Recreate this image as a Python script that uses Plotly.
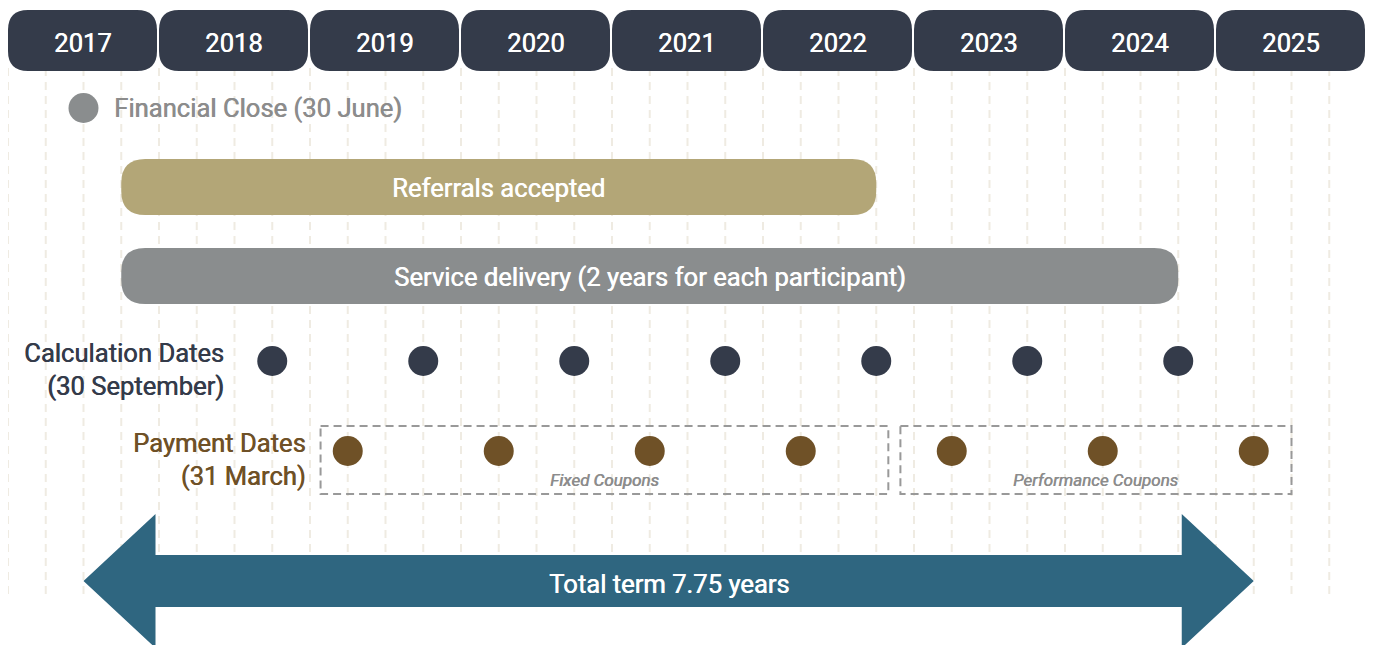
import plotly.graph_objects as go

# ---- data ----
years = [2017, 2018, 2019, 2020, 2021, 2022, 2023, 2024, 2025]
financial_close = 2017.5            # 30 June 2017
referrals_period = [2017.75, 2022.75]
service_period = [2017.75, 2024.75]
calculation_dates = [2018.75, 2019.75, 2020.75, 2021.75, 2022.75, 2023.75, 2024.75]
payment_dates = [2019.25, 2020.25, 2021.25, 2022.25, 2023.25, 2024.25, 2025.25]
fixed_coupon_span = [2019.07, 2022.83]
performance_coupon_span = [2022.91, 2025.50]
term_period = [2017.5, 2025.25]     # 7.75 years

# ---- styling ----
PX_PER_YEAR = 151.0
PAGE_MARGIN = 8                     # default body margin of the html page
W, H = 1373 - PAGE_MARGIN, 645 - PAGE_MARGIN
FONT = "Roboto"
DARK = "#343b4a"
GOLD = "#b3a677"
GREY = "#8a8d8e"
BROWN = "#6f5127"
TEAL = "#2f6680"
GRID = "#efebe2"
FS = 25.6

def fnt(color, size=FS):
    # regular Roboto thickened slightly to mimic the medium weight
    return dict(family=FONT, size=size, color=color, weight=400,
                shadow=f"0.55px 0 0 {color}")

def px(n):
    return n / PX_PER_YEAR

x_min = years[0]
x_max = x_min + px(W)

fig = go.Figure()
shapes = []
annotations = []

# quarter-year dashed gridlines
q = years[0]
while q <= years[-1] + 1 + 1e-9:
    shapes.append(dict(type="line", x0=q, x1=q, y0=68, y1=594, xref="x", yref="y",
                       line=dict(color=GRID, width=2, dash="8px,6px"), layer="below"))
    q += 0.25

def rrect(x0, x1, y0, y1, r, color):
    rx = px(r)
    path = (f"M{x0+rx},{y0} L{x1-rx},{y0} Q{x1},{y0} {x1},{y0+r} "
            f"L{x1},{y1-r} Q{x1},{y1} {x1-rx},{y1} L{x0+rx},{y1} "
            f"Q{x0},{y1} {x0},{y1-r} L{x0},{y0+r} Q{x0},{y0} {x0+rx},{y0} Z")
    return dict(type="path", path=path, xref="x", yref="y", fillcolor=color,
                line=dict(width=0), layer="above")

# year header boxes
for yr in years:
    shapes.append(rrect(yr, yr + 1 - px(2), 10, 71, 20, DARK))
    annotations.append(dict(x=yr + 0.5 - px(1), y=43, text=str(yr), showarrow=False,
                            font=fnt("#ffffff")))

# financial close
fig.add_trace(go.Scatter(x=[financial_close], y=[108], mode="markers",
                         marker=dict(size=30, color=GREY), hoverinfo="skip"))
annotations.append(dict(x=financial_close + px(28), y=108, text="Financial Close (30 June)",
                        showarrow=False, xanchor="left", font=fnt("#8c8c8c")))

# referrals & service bars
shapes.append(rrect(referrals_period[0], referrals_period[1], 159, 215, 24, GOLD))
annotations.append(dict(x=sum(referrals_period) / 2, y=188, text="Referrals accepted",
                        showarrow=False, font=fnt("#ffffff")))
shapes.append(rrect(service_period[0], service_period[1], 248, 304, 24, GREY))
annotations.append(dict(x=sum(service_period) / 2, y=277,
                        text="Service delivery (2 years for each participant)",
                        showarrow=False, font=fnt("#ffffff")))

# calculation dates
fig.add_trace(go.Scatter(x=calculation_dates, y=[361] * len(calculation_dates), mode="markers",
                         marker=dict(size=30, color=DARK), hoverinfo="skip"))
annotations.append(dict(x=years[0] + px(218), y=369, text="Calculation Dates<br>(30 September)",
                        showarrow=False, xanchor="right", align="right", font=fnt(DARK)))

# coupon boxes
for span, label in [(fixed_coupon_span, "Fixed Coupons"),
                    (performance_coupon_span, "Performance Coupons")]:
    shapes.append(dict(type="rect", x0=span[0], x1=span[1], y0=426, y1=494, xref="x", yref="y",
                       line=dict(color="#999999", width=2, dash="8px,5px"), layer="above"))
    annotations.append(dict(x=sum(span) / 2, y=480, text=f"<i>{label}</i>", showarrow=False,
                            font=fnt("#8c8c8c", 17)))

# payment dates
fig.add_trace(go.Scatter(x=payment_dates, y=[451] * len(payment_dates), mode="markers",
                         marker=dict(size=30, color=BROWN), hoverinfo="skip"))
annotations.append(dict(x=years[0] + px(300), y=459, text="Payment Dates<br>(31 March)",
                        showarrow=False, xanchor="right", align="right", font=fnt(BROWN)))

# total term arrow
a0, a1 = term_period
hl = px(72)
yc, bw, hh = 581, 26, 67
arrow = (f"M{a0},{yc} L{a0+hl},{yc-hh} L{a0+hl},{yc-bw} L{a1-hl},{yc-bw} "
         f"L{a1-hl},{yc-hh} L{a1},{yc} L{a1-hl},{yc+hh} L{a1-hl},{yc+bw} "
         f"L{a0+hl},{yc+bw} L{a0+hl},{yc+hh} Z")
shapes.append(dict(type="path", path=arrow, xref="x", yref="y", fillcolor=TEAL,
                   line=dict(width=0), layer="above"))
annotations.append(dict(x=(a0 + a1) / 2, y=584, text=f"Total term {a1 - a0:g} years",
                        showarrow=False, font=fnt("#ffffff")))

fig.update_layout(
    width=W, height=H, margin=dict(l=0, r=0, t=0, b=0),
    paper_bgcolor="white", plot_bgcolor="white", showlegend=False,
    xaxis=dict(range=[x_min, x_max], visible=False, fixedrange=True),
    yaxis=dict(range=[H + PAGE_MARGIN, PAGE_MARGIN], visible=False, fixedrange=True),
    shapes=shapes, annotations=annotations,
)
fig.write_html("out.html", config={"displayModeBar": False})
